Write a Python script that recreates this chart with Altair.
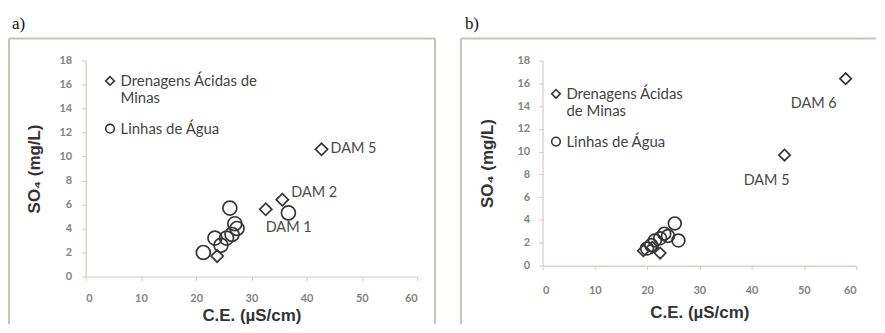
import altair as alt
import pandas as pd

SERIES = ["Drenagens Ácidas de Minas", "Linhas de Água"]

# ---- Panel a) ----
a_dam_x = [23.8, 32.6, 35.6, 42.7]
a_dam_y = [1.7, 5.6, 6.4, 10.6]
a_dam_lbl = ["", "DAM 1", "DAM 2", "DAM 5"]
a_lin_x = [21.3, 23.4, 24.5, 25.5, 26.1, 26.5, 27.0, 27.4, 36.7]
a_lin_y = [2.0, 3.2, 2.6, 3.2, 5.7, 3.5, 4.4, 4.0, 5.3]

# ---- Panel b) ----
b_dam_x = [19.3, 21.0, 22.5, 46.3, 58.0]
b_dam_y = [1.3, 1.6, 1.1, 9.7, 16.4]
b_dam_lbl = ["", "", "", "DAM 5", "DAM 6"]
b_lin_x = [20.0, 20.8, 21.5, 22.5, 23.3, 24.0, 25.3, 26.0]
b_lin_y = [1.5, 1.8, 2.2, 2.4, 2.8, 2.6, 3.7, 2.2]

x_ticks = [0, 10, 20, 30, 40, 50, 60]
y_ticks = [0, 2, 4, 6, 8, 10, 12, 14, 16, 18]

INK = "#363636"
AXC = "#d6cac3"
FRAME = "#cbc2bb"
LFONT = "Lato"


def make_df(xs, ys, serie, labels=None):
    if labels is None:
        labels = [""] * len(xs)
    return pd.DataFrame({"ce": xs, "so4": ys, "serie": serie, "label": labels})


def frame_rules(segments):
    out = []
    one = pd.DataFrame({"f": [0]})
    for (x1, x2, y1, y2) in segments:
        out.append(alt.Chart(one).mark_rule(color=FRAME, strokeWidth=2).encode(
            x=alt.value(x1), x2=alt.value(x2), y=alt.value(y1), y2=alt.value(y2)))
    return out


def panel(dfd, dfl, w, h, segments, title, title_dx, legend_xy, label_expr,
          sizes, label_specs, x_lab_pad, x_title_pad, y_lab_pad, y_title_pad):
    xenc = alt.X("ce:Q", scale=alt.Scale(domain=[0, 60], nice=False),
                 axis=alt.Axis(values=x_ticks, title="C.E. (µS/cm)", labelOverlap=False,
                               labelPadding=x_lab_pad, titlePadding=x_title_pad))
    yenc = alt.Y("so4:Q", scale=alt.Scale(domain=[0, 18], nice=False),
                 axis=alt.Axis(values=y_ticks, title="SO₄ (mg/L)", labelOverlap=False,
                               labelPadding=y_lab_pad, titlePadding=y_title_pad))
    shape = alt.Shape("serie:N",
                      scale=alt.Scale(domain=SERIES, range=["diamond", "circle"]),
                      legend=alt.Legend(title=None, orient="none",
                                        legendX=legend_xy[0], legendY=legend_xy[1],
                                        labelExpr=label_expr, symbolSize=75))
    dam = alt.Chart(dfd).mark_point(filled=False, color=INK, strokeWidth=1.7,
                                    opacity=1, size=sizes[0]).encode(
        x=xenc, y=yenc, shape=shape)
    lin = alt.Chart(dfl).mark_point(filled=False, color=INK, strokeWidth=1.7,
                                    opacity=1, size=sizes[1]).encode(
        x=xenc, y=yenc, shape=shape)
    layers = frame_rules(segments) + [dam, lin]
    for name, align, dx, dy in label_specs:
        layers.append(
            alt.Chart(dfd).transform_filter(alt.datum.label == name).mark_text(
                align=align, baseline="middle", dx=dx, dy=dy,
                font=LFONT, fontSize=14.5, color="#4a4a4a"
            ).encode(x=xenc, y=yenc, text="label:N")
        )
    return alt.layer(*layers).properties(
        width=w, height=h,
        title=alt.TitleParams(title, anchor="start", dx=title_dx, offset=5,
                              font="Liberation Serif", fontSize=17,
                              fontWeight="normal", color="#111"),
    )


dfa_d = make_df(a_dam_x, a_dam_y, SERIES[0], a_dam_lbl)
dfa_l = make_df(a_lin_x, a_lin_y, SERIES[1])
dfb_d = make_df(b_dam_x, b_dam_y, SERIES[0], b_dam_lbl)
dfb_l = make_df(b_lin_x, b_lin_y, SERIES[1])

expr_a = ("datum.label == 'Drenagens Ácidas de Minas' ? "
          "['Drenagens Ácidas de', 'Minas'] : datum.label")
expr_b = ("datum.label == 'Drenagens Ácidas de Minas' ? "
          "['Drenagens Ácidas', 'de Minas'] : datum.label")

# frame segments (pixel offsets from the plot area): left, top, right
seg_a = [(-77, -77, -22, 265), (-77, 351, -22, -22), (351, 351, -22, 265)]
seg_b = [(-82, -82, -22, 265), (-82, 335, -22, -22)]

pa = panel(dfa_d, dfa_l, 333, 217, seg_a, "a)", 4, (17, 13), expr_a,
           [150, 196],
           [("DAM 5", "left", 9, 0), ("DAM 2", "left", 9, -7), ("DAM 1", "center", 23, 19)],
           12, 4, 10, 16)
pb = panel(dfb_d, dfb_l, 315, 206, seg_b, "b)", 5, (6, 26), expr_b,
           [130, 165],
           [("DAM 6", "center", -32, 25), ("DAM 5", "center", -18, 26)],
           15, 9, 9, 21)

chart = alt.hconcat(pa, pb, spacing=24).resolve_scale(
    shape="independent"
).resolve_legend(shape="independent").properties(
    padding={"left": 0, "top": 6, "right": 0, "bottom": 0},
    background="white",
).configure_view(strokeWidth=0).configure_axis(
    grid=False, domainColor=AXC, tickColor=AXC, tickSize=4, domainWidth=1.2,
    labelFont=LFONT, labelFontSize=11, labelColor="#838383", labelFontWeight="bold",
    titleFont="Liberation Sans", titleFontSize=17, titleFontWeight="bold", titleColor="#333",
    zindex=1,
).configure_legend(
    labelFont=LFONT, labelFontSize=15, labelColor="#444", labelLimit=300,
    symbolStrokeWidth=1.6, symbolStrokeColor=INK,
    rowPadding=14, labelOffset=3, symbolFillColor="transparent", zindex=1,
)

chart.save("out.html", embed_options={"renderer": "svg", "actions": False})
